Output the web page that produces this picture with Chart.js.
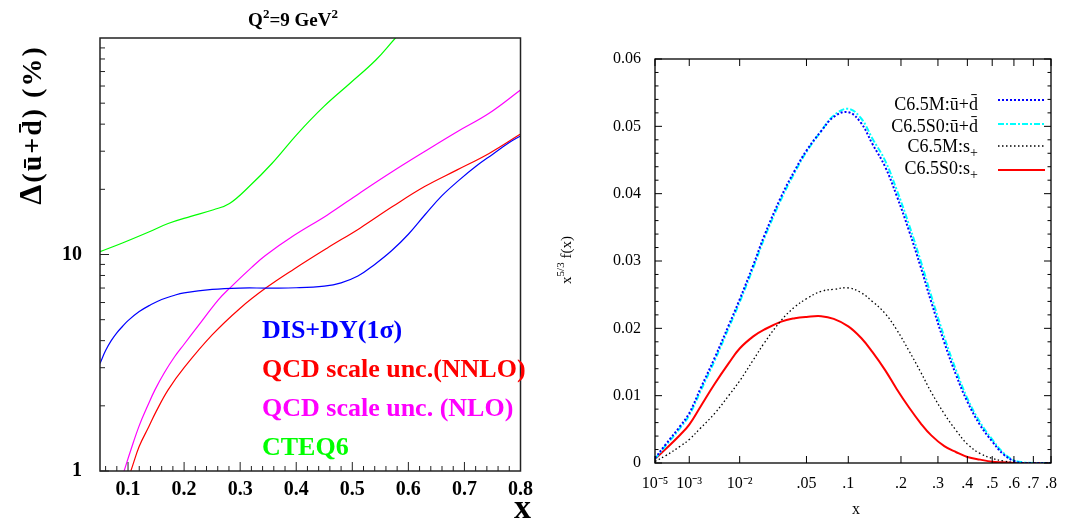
<!DOCTYPE html>
<html>
<head>
<meta charset="utf-8">
<script src="https://cdn.jsdelivr.net/npm/chart.js@4.4.0/dist/chart.umd.min.js"></script>
<style>
  html, body { margin: 0; padding: 0; background: #fff; }
  #wrap { position: relative; width: 1068px; height: 522px; }
  canvas { position: absolute; top: 0; }
  #left-chart { left: 0; }
  #right-chart { left: 540px; }
</style>
</head>
<body>
<div id="wrap">
  <canvas id="left-chart" width="540" height="522"></canvas>
  <canvas id="right-chart" width="528" height="522"></canvas>
</div>
<script>
// ---- left panel: relative uncertainty of ubar+dbar (%) at Q^2 = 9 GeV^2 ----
const disX   = [0.05, 0.06, 0.07, 0.08, 0.09, 0.1, 0.12, 0.14, 0.16, 0.18, 0.2, 0.25, 0.3, 0.35, 0.4, 0.45, 0.48, 0.51, 0.54, 0.57, 0.6, 0.63, 0.66, 0.69, 0.72, 0.75, 0.78, 0.8];
const disY   = [3.14, 3.6, 4.0, 4.35, 4.65, 4.95, 5.45, 5.85, 6.2, 6.45, 6.65, 6.9, 7.0, 7.0, 7.02, 7.15, 7.4, 7.95, 9.0, 10.4, 12.4, 15.3, 18.7, 22.0, 25.5, 29.0, 32.9, 35.3];
const nnloX  = [0.1, 0.105, 0.12, 0.137, 0.15, 0.1715, 0.2, 0.25, 0.3, 0.345, 0.397, 0.455, 0.513, 0.571, 0.629, 0.687, 0.744, 0.8];
const nnloY  = [0.93, 1.0, 1.3, 1.6, 1.88, 2.37, 3.0, 4.25, 5.65, 6.98, 8.6, 10.7, 13.2, 16.6, 20.6, 24.6, 29.3, 36.0];
const nloX   = [0.088, 0.093, 0.105, 0.12, 0.135, 0.148, 0.165, 0.183, 0.2, 0.224, 0.261, 0.281, 0.32, 0.345, 0.397, 0.455, 0.513, 0.571, 0.629, 0.687, 0.744, 0.8];
const nloY   = [0.91, 1.0, 1.25, 1.62, 2.0, 2.37, 2.85, 3.37, 3.85, 4.64, 6.17, 6.98, 8.7, 9.9, 12.3, 15.2, 19.2, 24.1, 29.9, 36.9, 44.9, 57.5];
const cteqX  = [0.05, 0.09, 0.137, 0.1715, 0.212, 0.2526, 0.281, 0.316, 0.357, 0.403, 0.449, 0.496, 0.542, 0.577, 0.6];
const cteqY  = [10.3, 11.3, 12.7, 13.9, 15.0, 16.1, 17.2, 20.6, 26.4, 36.3, 48.2, 61.8, 79.1, 100, 115];
const leftXTicks = [0.1, 0.2, 0.3, 0.4, 0.5, 0.6, 0.7, 0.8];
const leftYTicks = [1, 10];

// ---- right panel: x^(5/3) f(x), x axis drawn on an x^(1/3) scale ----
const pdfX = [1e-5, 1e-4, 5e-4, 1e-3, 2e-3, 4e-3, 7e-3, 0.01, 0.015, 0.02, 0.03, 0.04, 0.05, 0.065, 0.08, 0.1,
              0.12, 0.14, 0.165, 0.19, 0.22, 0.25, 0.28, 0.32, 0.36, 0.4, 0.45, 0.5, 0.55, 0.6, 0.65, 0.7, 0.8];
const mUD  = [0.0007, 0.0028, 0.0055, 0.0074, 0.0111, 0.0157, 0.0206, 0.0243, 0.0294, 0.0337, 0.0396, 0.0435, 0.0464, 0.0493, 0.0514, 0.0521,
              0.0505, 0.0474, 0.0440, 0.0397, 0.0344, 0.0291, 0.0239, 0.0179, 0.0130, 0.0091, 0.0056, 0.0032, 0.0013, 0.0003, 0, 0, 0];
const s0UD = [0.0006, 0.0026, 0.0052, 0.0071, 0.0107, 0.0153, 0.0202, 0.0239, 0.0290, 0.0333, 0.0392, 0.0432, 0.0462, 0.0493, 0.0516, 0.0526,
              0.0512, 0.0482, 0.0449, 0.0406, 0.0353, 0.0300, 0.0248, 0.0187, 0.0137, 0.0096, 0.0060, 0.0035, 0.0015, 0.0004, 0.0001, 0, 0];
const mSp  = [0.00024, 0.0011, 0.0025, 0.0035, 0.0052, 0.0074, 0.0101, 0.0122, 0.0153, 0.0178, 0.0212, 0.0232, 0.0244, 0.0255, 0.0258, 0.0260,
              0.0253, 0.0240, 0.0222, 0.0198, 0.0166, 0.0135, 0.0105, 0.0073, 0.0048, 0.0028, 0.0014, 0.0007, 0.0003, 0.0001, 0, 0, 0];
const s0Sp = [0.0006, 0.0021, 0.0042, 0.0057, 0.0084, 0.0118, 0.0149, 0.0170, 0.0188, 0.0198, 0.0210, 0.0215, 0.0217, 0.0218, 0.0214, 0.0203,
              0.0186, 0.0165, 0.0138, 0.0110, 0.0082, 0.0059, 0.0041, 0.0025, 0.0016, 0.0009, 0.0005, 0.0002, 0.0001, 0, 0, 0, 0];
const rightXTicks  = [1e-5, 1e-3, 1e-2, 0.05, 0.1, 0.2, 0.3, 0.4, 0.5, 0.6, 0.7, 0.8];
const rightXLabels = ['10⁻⁵', '10⁻³', '10⁻²', '.05', '.1', '.2', '.3', '.4', '.5', '.6', '.7', '.8'];

const SERIF = "'Liberation Serif', 'Times New Roman', serif";

function pairs(xs, ys, fx) {
    return xs.map((v, i) => ({ x: fx ? fx(v) : v, y: ys[i] }));
}

function line(ctx, x1, y1, x2, y2) {
    ctx.beginPath();
    ctx.moveTo(x1, y1);
    ctx.lineTo(x2, y2);
    ctx.stroke();
}

// draw text made of pieces (normal / superscript / subscript)
function drawParts(ctx, parts, x, y, align) {
    const widths = parts.map(p => {
        ctx.font = `${p.weight || 'normal'} ${p.size}px ${SERIF}`;
        return ctx.measureText(p.t).width;
    });
    const total = widths.reduce((s, w) => s + w, 0);
    let cx = align === 'right' ? x - total : align === 'center' ? x - total / 2 : x;
    ctx.textAlign = 'left';
    ctx.textBaseline = 'alphabetic';
    parts.forEach((p, i) => {
        ctx.font = `${p.weight || 'normal'} ${p.size}px ${SERIF}`;
        ctx.fillText(p.t, cx, y + (p.dy || 0));
        cx += widths[i];
    });
}

// ---------------- left chart ----------------
const leftDecor = {
    id: 'leftDecor',
    afterDraw(chart) {
        const { ctx, chartArea: a, scales: { x, y } } = chart;
        ctx.save();
        ctx.strokeStyle = '#222';
        ctx.lineWidth = 1;
        // inner ticks on y (log)
        for (let d = 1; d < 100; d *= 10) {
            for (let k = 1; k <= 9; k++) {
                const py = y.getPixelForValue(d * k);
                line(ctx, a.left, py, a.left + (k === 1 ? 9 : 5), py);
            }
        }
        // inner ticks on x
        for (let i = 3; i <= 40; i++) {
            const px = x.getPixelForValue(i * 0.02);
            line(ctx, px, a.bottom, px, a.bottom - (i % 5 === 0 ? 9 : 5));
        }
        ctx.lineWidth = 1.5;
        ctx.strokeRect(a.left, a.top, a.right - a.left, a.bottom - a.top);

        ctx.fillStyle = '#000';
        // title
        drawParts(ctx, [
            { t: 'Q', size: 19, weight: 'bold' },
            { t: '2', size: 13, weight: 'bold', dy: -8 },
            { t: '=9 GeV', size: 19, weight: 'bold' },
            { t: '2', size: 13, weight: 'bold', dy: -8 }
        ], 293, 26, 'center');
        // y title
        ctx.save();
        ctx.translate(41, 125);
        ctx.rotate(-Math.PI / 2);
        ctx.letterSpacing = '2px';
        drawParts(ctx, [
            { t: 'Δ', size: 32, weight: 'bold' },
            { t: '(u\u0304+d\u0304) (%)', size: 28, weight: 'bold' }
        ], 0, 0, 'center');
        ctx.restore();
        // x title
        ctx.font = `bold 34px ${SERIF}`;
        ctx.textAlign = 'right';
        ctx.textBaseline = 'alphabetic';
        ctx.fillText('x', 531, 518);
        // text legend
        chart.data.datasets.forEach((ds, i) => {
            ctx.fillStyle = ds.borderColor;
            ctx.font = `bold 26px ${SERIF}`;
            ctx.textAlign = 'left';
            ctx.fillText(ds.label, 262, 338 + i * 39);
        });
        ctx.restore();
    }
};

new Chart(document.getElementById('left-chart'), {
    type: 'line',
    data: {
        datasets: [
            { label: 'DIS+DY(1σ)', data: pairs(disX, disY), borderColor: '#0000ff' },
            { label: 'QCD scale unc.(NNLO)', data: pairs(nnloX, nnloY), borderColor: '#ff0000' },
            { label: 'QCD scale unc. (NLO)', data: pairs(nloX, nloY), borderColor: '#ff00ff' },
            { label: 'CTEQ6', data: pairs(cteqX, cteqY), borderColor: '#00ff00' }
        ].map(ds => Object.assign(ds, {
            borderWidth: 1.2, pointRadius: 0, tension: 0.4, fill: false
        }))
    },
    options: {
        responsive: false,
        animation: false,
        layout: { padding: { top: 38, right: 8, left: 0, bottom: 0 } },
        plugins: { legend: { display: false }, tooltip: { enabled: false } },
        scales: {
            x: {
                type: 'linear', min: 0.05, max: 0.8,
                grid: { display: false, drawTicks: false },
                border: { display: false },
                afterBuildTicks: s => { s.ticks = leftXTicks.map(v => ({ value: v })); },
                afterFit: s => { s.height = 51; },
                ticks: {
                    padding: 7, color: '#000', maxRotation: 0,
                    font: { family: SERIF, size: 20, weight: 'bold' },
                    callback: v => v.toFixed(1)
                }
            },
            y: {
                type: 'logarithmic', min: 1, max: 100,
                grid: { display: false, drawTicks: false },
                border: { display: false },
                afterBuildTicks: s => { s.ticks = leftYTicks.map(v => ({ value: v })); },
                afterFit: s => { s.width = 100; },
                ticks: {
                    padding: 18, color: '#000',
                    font: { family: SERIF, size: 20, weight: 'bold' },
                    callback: v => String(v)
                }
            }
        }
    },
    plugins: [leftDecor]
});

// ---------------- right chart ----------------
const rightStyles = [
    { color: '#0000ff', width: 2, dash: [2, 2] },
    { color: '#00ffff', width: 2, dash: [6, 2, 2, 2] },
    { color: '#000000', width: 1.3, dash: [1.5, 2.5] },
    { color: '#ff0000', width: 2, dash: [] }
];
const rightLegend = [
    [{ t: 'C6.5M:u\u0304+d\u0304', size: 18 }],
    [{ t: 'C6.5S0:u\u0304+d\u0304', size: 18 }],
    [{ t: 'C6.5M:s', size: 18 }, { t: '+', size: 14, dy: 5 }],
    [{ t: 'C6.5S0:s', size: 18 }, { t: '+', size: 14, dy: 5 }]
];

const rightDecor = {
    id: 'rightDecor',
    afterDraw(chart) {
        const { ctx, chartArea: a, scales: { x, y } } = chart;
        ctx.save();
        ctx.strokeStyle = '#000';
        ctx.lineWidth = 1;
        // y ticks, mirrored
        for (let i = 0; i <= 30; i++) {
            const py = y.getPixelForValue(i * 0.002);
            const len = i % 5 === 0 ? 7 : 3.5;
            line(ctx, a.left, py, a.left + len, py);
            line(ctx, a.right, py, a.right - len, py);
        }
        // x ticks, mirrored
        rightXTicks.forEach(v => {
            const px = x.getPixelForValue(Math.cbrt(v));
            line(ctx, px, a.bottom, px, a.bottom - 7);
            line(ctx, px, a.top, px, a.top + 7);
        });
        ctx.lineWidth = 1.3;
        ctx.strokeRect(a.left, a.top, a.right - a.left, a.bottom - a.top);

        // legend
        ctx.fillStyle = '#000';
        const rowText = [110, 132, 152, 174];
        const rowLine = [100, 124, 146, 170];
        chart.data.datasets.forEach((ds, i) => {
            drawParts(ctx, rightLegend[i], 438, rowText[i], 'right');
            ctx.save();
            ctx.strokeStyle = ds.borderColor;
            ctx.lineWidth = ds.borderWidth;
            ctx.setLineDash(ds.borderDash);
            line(ctx, 458, rowLine[i], 505, rowLine[i]);
            ctx.restore();
        });

        // axis titles
        ctx.fillStyle = '#000';
        ctx.save();
        ctx.translate(31, 260);
        ctx.rotate(-Math.PI / 2);
        drawParts(ctx, [
            { t: 'x', size: 15 },
            { t: '5/3', size: 11, dy: -7 },
            { t: ' f(x)', size: 15 }
        ], 0, 0, 'center');
        ctx.restore();
        ctx.font = `16px ${SERIF}`;
        ctx.textAlign = 'center';
        ctx.textBaseline = 'alphabetic';
        ctx.fillText('x', 316, 514);
        ctx.restore();
    }
};

new Chart(document.getElementById('right-chart'), {
    type: 'line',
    data: {
        datasets: [mUD, s0UD, mSp, s0Sp].map((ys, i) => ({
            label: ['C6.5M:ū+d̄', 'C6.5S0:ū+d̄', 'C6.5M:s+', 'C6.5S0:s+'][i],
            data: pairs(pdfX, ys, Math.cbrt),
            borderColor: rightStyles[i].color,
            borderWidth: rightStyles[i].width,
            borderDash: rightStyles[i].dash,
            pointRadius: 0,
            tension: 0.4,
            fill: false
        }))
    },
    options: {
        responsive: false,
        animation: false,
        layout: { padding: { top: 59, right: 8, left: 0, bottom: 0 } },
        plugins: { legend: { display: false }, tooltip: { enabled: false } },
        scales: {
            x: {
                type: 'linear', min: Math.cbrt(1e-5), max: Math.cbrt(0.8),
                grid: { display: false, drawTicks: false },
                border: { display: false },
                afterBuildTicks: s => { s.ticks = rightXTicks.map(v => ({ value: Math.cbrt(v) })); },
                afterFit: s => { s.height = 59; },
                ticks: {
                    padding: 11, color: '#000', maxRotation: 0, autoSkip: false,
                    font: { family: SERIF, size: 16 },
                    callback: (v, i) => rightXLabels[i]
                }
            },
            y: {
                type: 'linear', min: 0, max: 0.06,
                grid: { display: false, drawTicks: false },
                border: { display: false },
                afterFit: s => { s.width = 115; },
                ticks: {
                    stepSize: 0.01, padding: 14, color: '#000',
                    font: { family: SERIF, size: 16 },
                    callback: v => (v === 0 ? '0' : v.toFixed(2))
                }
            }
        }
    },
    plugins: [rightDecor]
});
</script>
</body>
</html>
